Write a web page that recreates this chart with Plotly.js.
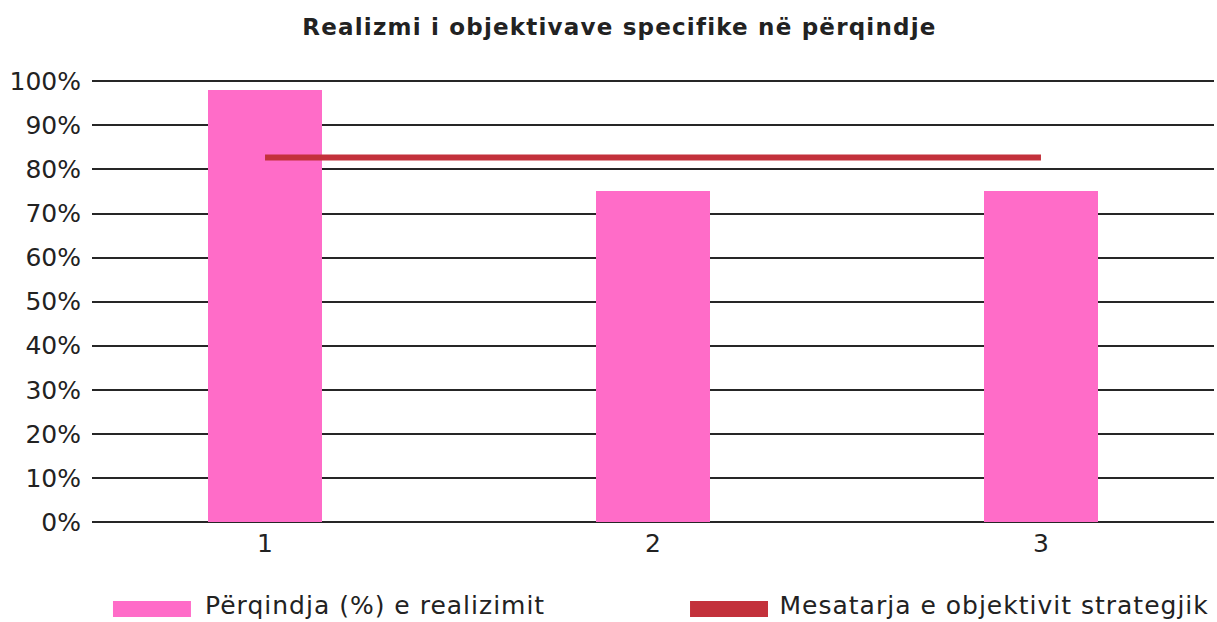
<!DOCTYPE html>
<html>
<head>
<meta charset="utf-8">
<script src="https://cdn.plot.ly/plotly-3.0.1.min.js"></script>
<style>
html,body{margin:0;padding:0;background:#fff;}
#chart{width:1217px;height:622px;}
#chart .gtitle{letter-spacing:1.2px;}
#chart .annotation-text{letter-spacing:1px;}
</style>
</head>
<body>
<div id="chart"></div>
<script>
const categories = [1, 2, 3];
const categoryLabels = ["1", "2", "3"];
const realizimi = [98, 75, 75];
const mesatarja = [82.7, 82.7, 82.7];
const seriesNames = ["Përqindja (%) e realizimit", "Mesatarja e objektivit strategjik"];
const yTicks = [0, 10, 20, 30, 40, 50, 60, 70, 80, 90, 100];
const yTickLabels = ["0%", "10%", "20%", "30%", "40%", "50%", "60%", "70%", "80%", "90%", "100%"];
const chartTitle = "Realizmi i objektivave specifike në përqindje";

const pink = "#FF6CC8";
const red = "#C3313B";
const fontFam = "'DejaVu Sans', sans-serif";
const txt = "#222222";

const traces = [
  {type: "bar", x: categories, y: realizimi, name: seriesNames[0], marker: {color: pink}, width: 0.296, showlegend: false, hoverinfo: "skip"},
  {type: "scatter", mode: "lines", x: categories, y: mesatarja, name: seriesNames[1], line: {color: red, width: 6}, showlegend: false, hoverinfo: "skip"}
];

const layout = {
  width: 1217, height: 622,
  margin: {l: 92, r: 3, t: 80, b: 100},
  paper_bgcolor: "#fff", plot_bgcolor: "#fff",
  title: {text: "<b>" + chartTitle + "</b>", x: 0.509, xanchor: "center", y: 0.957, yanchor: "middle", font: {family: fontFam, size: 23, color: txt}},
  xaxis: {range: [0.554, 3.446], tickvals: categories, ticktext: categoryLabels, showgrid: false, zeroline: false, showline: false, ticks: "", tickfont: {family: fontFam, size: 25, color: txt}, ticklabelstandoff: 4, fixedrange: true},
  yaxis: {range: [0, 100.3], tickvals: yTicks, ticktext: yTickLabels, showgrid: true, gridcolor: "#262626", gridwidth: 2, zeroline: true, zerolinecolor: "#262626", zerolinewidth: 2, showline: false, ticks: "", tickfont: {family: fontFam, size: 25, color: txt}, ticklabelstandoff: 10, fixedrange: true},
  bargap: 0,
  shapes: [
    {type: "rect", xref: "paper", yref: "paper", x0: 0.0187, x1: 0.0882, y0: -0.1787, y1: -0.2149, fillcolor: pink, line: {width: 0}},
    {type: "rect", xref: "paper", yref: "paper", x0: 0.533, x1: 0.6025, y0: -0.1787, y1: -0.2149, fillcolor: red, line: {width: 0}}
  ],
  annotations: [
    {xref: "paper", yref: "paper", x: 0.1105, y: -0.1900, xanchor: "left", yanchor: "middle", text: seriesNames[0], showarrow: false, font: {family: fontFam, size: 25, color: txt}},
    {xref: "paper", yref: "paper", x: 0.6257, y: -0.1900, xanchor: "left", yanchor: "middle", text: seriesNames[1], showarrow: false, font: {family: fontFam, size: 25, color: txt}}
  ]
};

Plotly.newPlot("chart", traces, layout, {displayModeBar: false, staticPlot: true});
</script>
</body>
</html>
